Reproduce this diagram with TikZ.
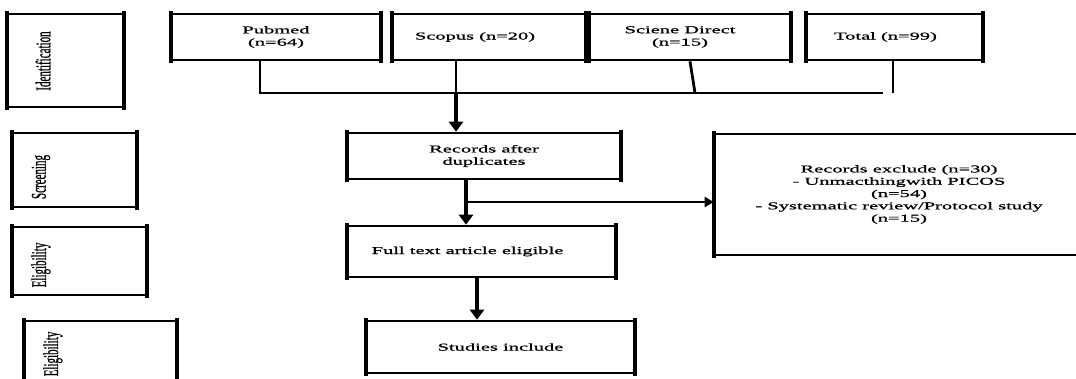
\documentclass[tikz,border=0pt]{standalone}
\usepackage{fontspec}
\setmainfont{Liberation Serif}[FakeStretch=1.95,FakeBold=1]
\newfontfamily\vfont{Liberation Serif}[FakeBold=1]
\usetikzlibrary{arrows.meta}
\tikzset{
  box/.style={draw=black, line width=2.6pt, inner sep=0pt, align=center,
    font=\fontsize{10.5}{12.3}\selectfont,
    append after command={
      (\tikzlastnode.north west) edge[line width=4.2pt, shorten <=-1.3pt, shorten >=-1.3pt] (\tikzlastnode.south west)
      (\tikzlastnode.north east) edge[line width=4.2pt, shorten <=-1.3pt, shorten >=-1.3pt] (\tikzlastnode.south east)}},
  vlabel/.style={rotate=90, inner sep=0pt, font=\vfont\fontsize{11}{13}\selectfont},
  conn/.style={line width=2.8pt},
  arr/.style={line width=3.2pt, -{Triangle[width=14pt,length=10pt]}},
  arrsmall/.style={line width=2.6pt, -{Triangle[width=10pt,length=9pt]}},
}
\begin{document}
\begin{tikzpicture}[x=1pt,y=-1pt]
\useasboundingbox (0,0) rectangle (1076,378);
\clip (0,0) rectangle (1076,378);
\fill[white] (0,0) rectangle (1076,378);

% stage boxes
\node[box, minimum width=115pt, minimum height=93pt] (idbox) at (65.5,60.5) {};
\node[vlabel] (idtxt) at (43,61) {\scalebox{1}[1.9]{Identification}};
\node[box, minimum width=123pt, minimum height=74pt] (scbox) at (74.5,170) {};
\node[vlabel] (sctxt) at (41,177) {\scalebox{1}[1.9]{Screening}};
\node[box, minimum width=133pt, minimum height=68pt] (elbox) at (79.5,261) {};
\node[vlabel] (eltxt) at (41,265) {\scalebox{1}[1.9]{Eligibility}};
\node[box, minimum width=151pt, minimum height=98pt] (el2box) at (100.5,370) {};
\node[vlabel] (el2txt) at (53,354) {\scalebox{1}[1.9]{Eligibility}};

% sources
\node[box, minimum width=208pt, minimum height=46pt] (pubmed) at (276,37) {Pubmed\\(n=64)};
\node[box, minimum width=192pt, minimum height=46pt] (scopus) at (489,37) {Scopus (n=20)\hspace*{28pt}};
\node[box, minimum width=200pt, minimum height=46pt] (sd) at (690,37) {Sciene Direct\hspace*{20pt}\\(n=15)\hspace*{20pt}};
\node[box, minimum width=175pt, minimum height=46pt] (total) at (894.5,37) {Total (n=99)\hspace*{18pt}};

% flow
\node[box, minimum width=272pt, minimum height=46pt] (records) at (484,156) {Records after\\duplicates};
\node[box, minimum width=267pt, minimum height=51pt] (fulltext) at (481.5,251.5) {Full text article eligible\hspace*{28pt}};
\node[box, minimum width=267pt, minimum height=52pt] (studies) at (500.5,347) {Studies include};
\node[box, minimum width=368pt, minimum height=121pt] (exclude) at (899,194.5) {Records exclude (n=30)\\- Unmacthingwith PICOS\\(n=54)\\- Systematic review/Protocol study\\(n=15)};

% connectors
\coordinate (hl) at (260,93);
\coordinate (hr) at (883,93);
\coordinate (js) at (456,93);
\coordinate (jd) at (695,93);
\coordinate (jt) at (893,93);
\draw[conn] (pubmed.south -| hl) -- (hl) -- (hr);
\draw[conn] (scopus.south -| js) -- (js);
\draw[conn] (sd.south) -- (jd);
\draw[conn] (total.south -| jt) -- (jt);
\draw[arr] (js) -- (records.north -| js);

\coordinate (rb) at (466,202);
\draw[arr] (records.south -| rb) -- (fulltext.north -| rb);
\draw[arrsmall] (rb) -- (exclude.west |- rb);

\coordinate (fx) at (477,300);
\draw[arr] (fulltext.south -| fx) -- (studies.north -| fx);
\end{tikzpicture}
\end{document}
